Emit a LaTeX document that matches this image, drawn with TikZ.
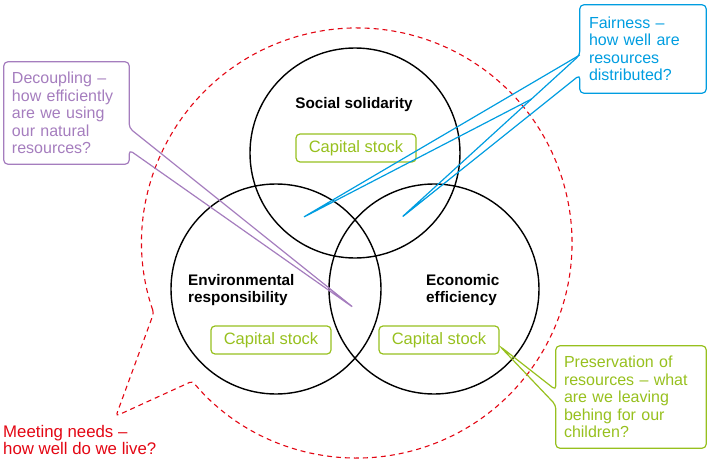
\documentclass[tikz,border=0pt]{standalone}
\usepackage{fontspec}
\setmainfont{Liberation Sans}
\usetikzlibrary{positioning,calc}
\definecolor{needsred}{RGB}{227,6,19}
\definecolor{capgreen}{RGB}{151,192,30}
\definecolor{fairblue}{RGB}{0,157,224}
\definecolor{decpurple}{RGB}{165,125,190}

\begin{document}
\begin{tikzpicture}[x=1pt, y=1pt,
        pillar/.style={circle, draw, line width=1.4pt, minimum size=210pt, inner sep=0pt},
        pillarlabel/.style={font=\fontsize{15.3}{16.5}\selectfont\bfseries, align=left, inner sep=0pt},
        capbox/.style={draw=capgreen, text=capgreen, line width=1.2pt, rounded corners=4pt,
            minimum width=120pt, minimum height=28pt, inner sep=0pt, font=\fontsize{16.5}{18}\selectfont},
        question/.style={align=left, inner xsep=8pt, inner ysep=0pt, font=\fontsize{16}{17.5}\selectfont},
        bubble/.style={line width=1.2pt, rounded corners=4pt}]
        \useasboundingbox (0,0) rectangle (710,459);
        % Meeting needs
        \coordinate (live) at (357,216);
        \coordinate (livetip) at (116,43);
        \draw [needsred, line width=1.1pt, dash pattern=on 5pt off 4pt, rounded corners=3pt]
            ($(live)+(199:215)$) arc [start angle=199, end angle=-140, radius=215]
            -- (livetip) -- cycle;
        \node [question, inner xsep=0pt, text=needsred, font=\fontsize{16.8}{17}\selectfont, anchor=west]
            (needs) at (3,19.5) {Meeting needs –\\how well do we live?};
        % Pillars
        \node [pillar] (social) at (355,306) {};
        \node [pillar] (environ) at (276,170) {};
        \node [pillar] (economy) at (434,170) {};
        % Labels
        \node [pillarlabel] (sociallabel) at (354,354) {Social solidarity};
        \node [pillarlabel, anchor=west] (environlabel) at (188,169) {Environmental\\responsibility};
        \node [pillarlabel, anchor=west] (economylabel) at (426,169) {Economic\\efficiency};
        \node [capbox] (socialcap) at (356,311) {Capital stock};
        \node [capbox] (environcap) at (271,119) {Capital stock};
        \node [capbox] (economycap) at (439,119) {Capital stock};
        % Decoupling
        \node [question, text=decpurple, text width=109pt, minimum height=102pt]
            (decoupling) at (66.5,346) {Decoupling –\\how efficiently\\are we using\\our natural\\resources?};
        \coordinate (decouplingtip) at (354,151);
        \draw [decpurple, bubble] (decoupling.north west) -- (decoupling.north east)
            -- ($(decoupling.east)+(0,-15)$) -- (decouplingtip) -- ($(decoupling.east)+(0,-37)$)
            -- (decoupling.south east) -- (decoupling.south west) -- cycle;
        % Fairness
        \node [question, inner xsep=9pt, text=fairblue, text width=108pt, minimum height=88pt]
            (fairness) at (643,410) {Fairness –\\how well are\\resources\\distributed?};
        \coordinate (fairtipa) at (302,241);
        \coordinate (fairtipb) at (401,241);
        \coordinate (fairroot) at ($(fairness.west)+(0,-6)$);
        \draw [fairblue, bubble] (fairness.north west) -- (fairness.north east)
            -- (fairness.south east) -- (fairness.south west)
            -- ($(fairness.west)+(0,-26)$) -- (fairtipb) -- (fairroot) -- cycle;
        \draw [fairblue, bubble] (fairroot) -- (fairtipa) -- ($(fairroot)!0.27!(fairtipb)$);
        % Preservation
        \node [question, text=capgreen, text width=134pt, minimum height=102pt]
            (preserve) at (631,62) {Preservation of\\resources – what\\are we leaving\\behing for our\\children?};
        \coordinate (preservetip) at ($(economycap.east)+(0,-6)$);
        \draw [capgreen, bubble] (preserve.north west) -- (preserve.north east)
            -- (preserve.south east) -- (preserve.south west)
            -- ($(preserve.west)+(0,-8)$) -- (preservetip) -- ($(preserve.west)+(0,7)$) -- cycle;
\end{tikzpicture}
\end{document}
